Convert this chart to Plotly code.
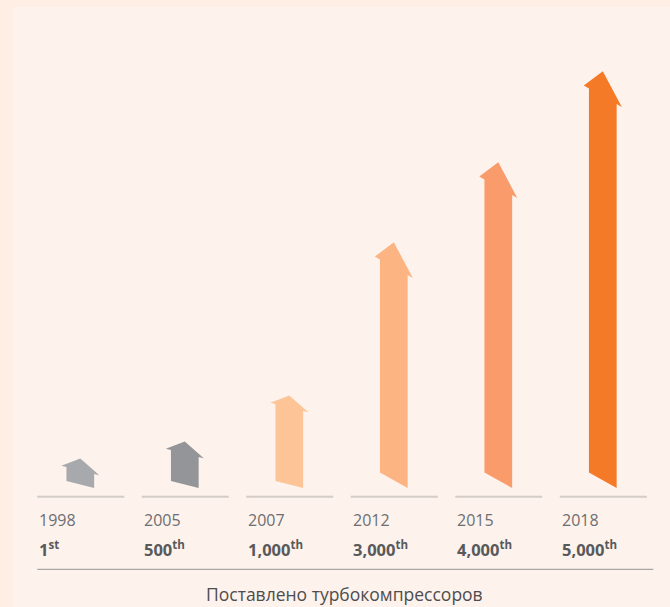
import plotly.graph_objects as go

# ---- data ----
years = ["1998", "2005", "2007", "2012", "2015", "2018"]
milestones = ["1", "500", "1,000", "3,000", "4,000", "5,000"]
suffixes = ["st", "th", "th", "th", "th", "th"]
arrow_heights = [26, 43, 89, 238, 318, 409]   # visual arrow heights (chart units)
title_text = "Поставлено турбокомпрессоров"

# ---- styles ----
arrow_colors = ["#A7A9AC", "#939598", "#FDC597", "#FCB482", "#F99B6B", "#F47A27"]
OUTER_BG = "#FEEEE4"
INNER_BG = "#FDF2EC"
YEAR_COLOR = "#6D6E71"
BOLD_COLOR = "#58595B"
FONT = "Open Sans, Noto Sans, sans-serif"

W, H = 670, 607
PX_PER_X = 104.5          # pixels per category step
X0_PX = 80.3              # pixel centre of first category
BASE_PX = 488.0           # pixel row of the arrows' baseline
x_range = [-X0_PX / PX_PER_X, (W - X0_PX) / PX_PER_X]
y_range = [BASE_PX - H, BASE_PX]   # 1 y-unit == 1 px


def arrow_polygon(i, h):
    """Sheared arrow, built in local pixel units then mapped to axis units."""
    big = h > 150
    k = 0.56 if big else 0.25          # shear (drop to the right)
    hh = 25 if big else 12             # head height
    s = 13.85                          # half shaft width
    hw = 19.0                          # half head width
    local = [(-s, 0), (-s, h - hh), (-hw, h - hh), (0, h),
             (hw, h - hh), (s, h - hh), (s, 0), (-s, 0)]
    base_c = k * s                     # right-bottom corner sits on baseline
    xs = [i + u / PX_PER_X for u, v in local]
    ys = [base_c + v - k * u for u, v in local]
    return xs, ys


fig = go.Figure()

for i, (h, c) in enumerate(zip(arrow_heights, arrow_colors)):
    xs, ys = arrow_polygon(i, h)
    fig.add_trace(go.Scatter(x=xs, y=ys, mode="lines", fill="toself",
                             fillcolor=c, line=dict(color=c, width=0),
                             hoverinfo="skip", showlegend=False))

shapes = [
    dict(type="rect", xref="paper", yref="paper", x0=13 / W, x1=1,
         y0=0, y1=1 - 7 / H, fillcolor=INNER_BG, line=dict(width=0), layer="below"),
]
annotations = []
left_off = -43 / PX_PER_X
right_off = 44 / PX_PER_X
for i, (yr, m, sfx) in enumerate(zip(years, milestones, suffixes)):
    shapes.append(dict(type="line", xref="x", yref="y",
                       x0=i + left_off, x1=i + right_off,
                       y0=BASE_PX - 496.7, y1=BASE_PX - 496.7,
                       line=dict(color="#D3CCC7", width=2)))
    annotations.append(dict(x=i + left_off, y=BASE_PX - 519.5, xref="x", yref="y",
                            text=yr, showarrow=False, xanchor="left", yanchor="middle",
                            font=dict(family=FONT, size=16, color=YEAR_COLOR)))
    annotations.append(dict(x=i + left_off, y=BASE_PX - 549, xref="x", yref="y",
                            text=f"<b>{m}<sup>{sfx}</sup></b>", showarrow=False,
                            xanchor="left", yanchor="middle",
                            font=dict(family=FONT, size=16.5, color=BOLD_COLOR)))

n = len(years)
shapes.append(dict(type="line", xref="x", yref="y",
                   x0=left_off, x1=(n - 1) + 50.5 / PX_PER_X,
                   y0=BASE_PX - 569.3, y1=BASE_PX - 569.3,
                   line=dict(color="#A9A6A4", width=1.3)))
annotations.append(dict(x=(n - 1) / 2 + 0.03, y=BASE_PX - 594, xref="x", yref="y",
                        text=title_text, showarrow=False, xanchor="center",
                        yanchor="middle",
                        font=dict(family=FONT, size=17.5, color="#4D4D4F")))

fig.update_layout(
    width=W, height=H,
    margin=dict(l=0, r=0, t=0, b=0),
    paper_bgcolor=OUTER_BG, plot_bgcolor="rgba(0,0,0,0)",
    xaxis=dict(range=x_range, visible=False, fixedrange=True),
    yaxis=dict(range=y_range, visible=False, fixedrange=True),
    shapes=shapes, annotations=annotations,
    showlegend=False,
)

fig.write_html("out.html", config={"displayModeBar": False},
               post_script="document.body.style.margin='0';"
                           "document.body.style.overflow='hidden';")
